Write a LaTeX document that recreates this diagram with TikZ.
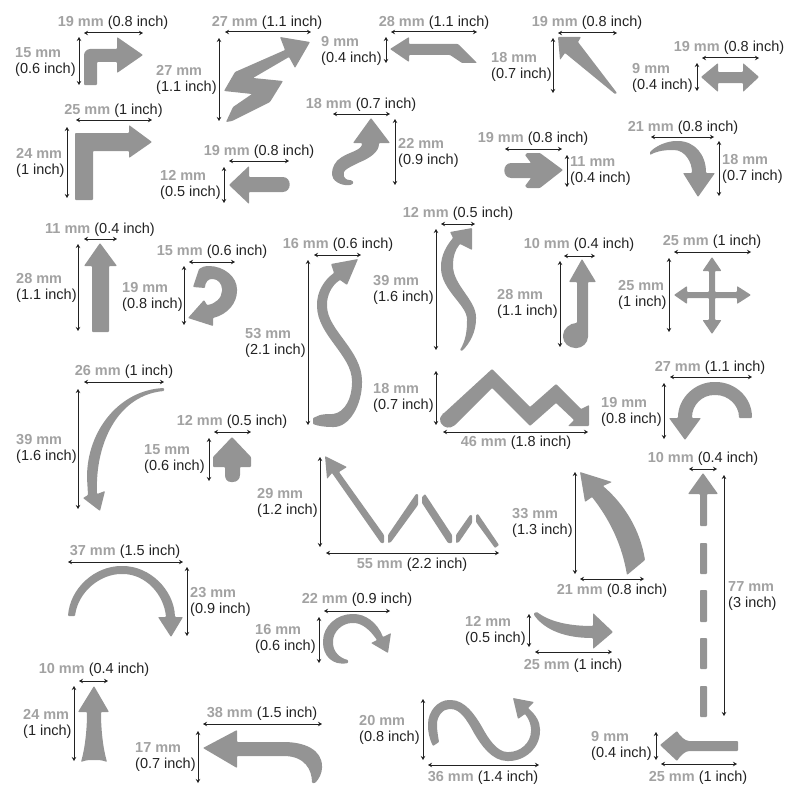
\documentclass[tikz,border=0pt]{standalone}
\usepackage{fontspec}
\setmainfont{Liberation Sans}
\usepackage{xcolor}
\usetikzlibrary{arrows.meta}
\definecolor{arrowgray}{HTML}{949494}
\definecolor{mmgray}{HTML}{A2A2A2}
\definecolor{inchblack}{HTML}{222222}
\newcommand{\mmtext}[1]{\textcolor{mmgray}{\textbf{#1}}}
\tikzset{
  arrowshape/.style={fill=arrowgray, draw=none, rounded corners=0.8pt},
  dimline/.style={{Stealth[length=4pt,width=4.5pt]}-{Stealth[length=4pt,width=4.5pt]}, line width=1pt, draw=inchblack},
  widthlabel/.style={inner sep=0pt, yshift=-1.8pt, text=inchblack, font=\fontsize{14.5}{16}\selectfont},
  heightlabel/.style={widthlabel, anchor=west, align=left}
}
\begin{document}
\begin{tikzpicture}[x=1pt, y=-1pt]
  \useasboundingbox (0,0) rectangle (800,800);

  % Bent right
  \fill[arrowshape] (84,85) -- (84,56) .. controls (84,52) and (87,49) .. (91,49) -- (117,49) -- (117,37) -- (143,55) -- (117,73) -- (117,62) -- (97,62) -- (97,85) -- cycle;
  \draw[dimline] (84,33) -- (143,33);
  \draw[dimline] (79,37) -- (79,85);
  \node[widthlabel] (benttop) at (113,21) {\mmtext{19 mm} (0.8 inch)};
  \node[heightlabel] (bentside) at (15,60) {\mmtext{15 mm}\\(0.6 inch)};

  % Lightning
  \fill[arrowshape] (310,42) -- (295,68) -- (289,57) -- (253,78) -- (283,81) -- (270,102) -- (232,121) -- (226,122) -- (233,107) -- (252,94) -- (224,91) -- (235,72) -- (285,50) -- (280,37) -- cycle;
  \draw[dimline] (225,32) -- (311,32);
  \draw[dimline] (219,38) -- (219,121);
  \node[widthlabel] (lightningtop) at (267,21) {\mmtext{27 mm} (1.1 inch)};
  \node[heightlabel] (lightningside) at (156,78) {\mmtext{27 mm}\\(1.1 inch)};

  % Left with bend
  \fill[arrowshape] (390,49) -- (409,37) -- (409,44) -- (458,44) -- (477,63) -- (462,63) -- (450,55) -- (409,55) -- (409,62) -- cycle;
  \draw[dimline] (391,32) -- (477,32);
  \draw[dimline] (386,37) -- (386,63);
  \node[widthlabel] (bendtop) at (434,21) {\mmtext{28 mm} (1.1 inch)};
  \node[heightlabel] (bendside) at (321,49) {\mmtext{9 mm}\\(0.4 inch)};

  % Spike
  \fill[arrowshape] (558,37) -- (581,37) -- (578,42) -- (617,93) -- (615,94) -- (565,53) -- (560,60) -- cycle;
  \draw[dimline] (558,33) -- (617,33);
  \draw[dimline] (553,38) -- (553,93);
  \node[widthlabel] (spiketop) at (587,21) {\mmtext{19 mm} (0.8 inch)};
  \node[heightlabel] (spikeside) at (491,65) {\mmtext{18 mm}\\(0.7 inch)};

  % Double
  \fill[arrowshape] (701,77) -- (718,63) -- (718,72) -- (743,72) -- (743,63) -- (759,77) -- (743,92) -- (743,83) -- (718,83) -- (718,92) -- cycle;
  \draw[dimline] (702,58) -- (759,58);
  \draw[dimline] (697,63) -- (697,91);
  \node[widthlabel] (doubletop) at (729,46) {\mmtext{19 mm} (0.8 inch)};
  \node[heightlabel] (doubleside) at (632,76) {\mmtext{9 mm}\\(0.4 inch)};

  % Big L
  \fill[arrowshape] (75,133) -- (129,133) -- (129,125) -- (152,142) -- (129,158) -- (129,151) -- (93,151) -- (93,200) -- (75,200) -- cycle;
  \draw[dimline] (76,120) -- (152,120);
  \draw[dimline] (67,127) -- (67,198);
  \node[widthlabel] (bigltop) at (113.5,109) {\mmtext{25 mm} (1 inch)};
  \node[heightlabel] (biglside) at (16,161) {\mmtext{24 mm}\\(1 inch)};

  % Left rounded
  \fill[arrowshape] (229,185) -- (249,166) -- (249,177) -- (282,177) .. controls (292,177) and (292,192) .. (282,192) -- (249,192) -- (249,204) -- cycle;
  \draw[dimline] (229,161) -- (289,161);
  \draw[dimline] (224,167) -- (224,203);
  \node[widthlabel] (lefttop) at (259,150) {\mmtext{19 mm} (0.8 inch)};
  \node[heightlabel] (leftside) at (160,183) {\mmtext{12 mm}\\(0.5 inch)};

  % Hook up
  \fill[arrowshape] (371,118) -- (390,143) -- (379,143) .. controls (379,152) and (370,158) .. (358,163) .. controls (350,167) and (344,170) .. (344,173) .. controls (343,177) and (346,180) .. (350,180) .. controls (354,181) and (354,184) .. (350,185) .. controls (340,186) and (332,180) .. (332,174) .. controls (332,168) and (335,161) .. (342,157) .. controls (350,152) and (362,150) .. (362,143) -- (353,143) -- cycle;
  \draw[dimline] (333,114) -- (390,114);
  \draw[dimline] (395,119) -- (395,185);
  \node[widthlabel] (hooktop) at (361,103) {\mmtext{18 mm} (0.7 inch)};
  \node[heightlabel] (hookside) at (398,151) {\mmtext{22 mm}\\(0.9 inch)};

  % Right rounded
  \fill[arrowshape] (563,170) -- (540,188) -- (527,188) -- (525,186) -- (531,178) -- (512,178) .. controls (502,178) and (502,163) .. (512,163) -- (531,163) -- (525,155) -- (527,153) -- (540,153) -- cycle;
  \draw[dimline] (505,149) -- (562,149);
  \draw[dimline] (567,155) -- (567,187);
  \node[widthlabel] (righttop) at (533,137) {\mmtext{19 mm} (0.8 inch)};
  \node[heightlabel] (rightside) at (570,169) {\mmtext{11 mm}\\(0.4 inch)};

  % Curve down
  \fill[arrowshape] (650,152) .. controls (657,145) and (668,141) .. (677,141) .. controls (695,141) and (706,155) .. (706,173) -- (715,173) -- (698,197) -- (683,173) -- (692,173) .. controls (692,162) and (685,150) .. (673,150) .. controls (662,150) and (655,152) .. (650,155) -- cycle;
  \draw[dimline] (651,137) -- (714,137);
  \draw[dimline] (719,141) -- (719,196);
  \node[widthlabel] (curvetop) at (683,126) {\mmtext{21 mm} (0.8 inch)};
  \node[heightlabel] (curveside) at (722,167) {\mmtext{18 mm}\\(0.7 inch)};

  % Straight up
  \fill[arrowshape] (100,243) -- (117,266) -- (109,266) -- (109,332) -- (92,332) -- (92,266) -- (84,266) -- cycle;
  \draw[dimline] (84,239) -- (117,239);
  \draw[dimline] (78,244) -- (78,331);
  \node[widthlabel] (straighttop) at (100,228) {\mmtext{11 mm} (0.4 inch)};
  \node[heightlabel] (straightside) at (16,286) {\mmtext{28 mm}\\(1.1 inch)};

  % Small circular
  \fill[arrowshape] (193,287) -- (199,269) .. controls (202,267) and (205,266) .. (208,266) .. controls (224,266) and (237,277) .. (237,290) .. controls (237,303) and (228,314) .. (213,318) -- (213,326) -- (188,318) -- (204,300) -- (207,305) .. controls (215,304) and (222,298) .. (222,290) .. controls (222,284) and (218,279) .. (212,279) .. controls (208,279) and (205,283) .. (205,288) -- cycle;
  \draw[dimline] (189,262) -- (235,262);
  \draw[dimline] (184,266) -- (184,325);
  \node[widthlabel] (circtop) at (212,250) {\mmtext{15 mm} (0.6 inch)};
  \node[heightlabel] (circside) at (122,295) {\mmtext{19 mm}\\(0.8 inch)};

  % Big S
  \fill[arrowshape] (331,264) -- (358,259) -- (347,285) -- (340,280) .. controls (331,286) and (327,296) .. (327,305) .. controls (327,330) and (362,350) .. (362,382) .. controls (362,404) and (350,427) .. (333,427) .. controls (325,427) and (318,426) .. (313,424) -- (313,418) -- (320,415) .. controls (325,414) and (329,414) .. (333,414) .. controls (345,412) and (352,398) .. (352,382) .. controls (352,355) and (317,335) .. (317,305) .. controls (317,292) and (324,280) .. (334,273) -- cycle;
  \draw[dimline] (314,255) -- (361,255);
  \draw[dimline] (308,260) -- (308,425);
  \node[widthlabel] (bigstop) at (338,243) {\mmtext{16 mm} (0.6 inch)};
  \node[heightlabel] (bigsside) at (245,341) {\mmtext{53 mm}\\(2.1 inch)};

  % Thin S
  \fill[arrowshape] (450,232) -- (472,228) -- (472,250) -- (460,244) .. controls (455,250) and (453,257) .. (453,265) .. controls (453,285) and (476,300) .. (476,318) .. controls (476,332) and (470,343) .. (462,351) -- (460,350) .. controls (466,340) and (467,330) .. (467,320) .. controls (467,305) and (441,290) .. (441,267) .. controls (441,255) and (447,245) .. (453,238) -- cycle;
  \draw[dimline] (441,224) -- (475,224);
  \draw[dimline] (436,229) -- (436,350);
  \node[widthlabel] (thinstop) at (458,212) {\mmtext{12 mm} (0.5 inch)};
  \node[heightlabel] (thinsside) at (373,288) {\mmtext{39 mm}\\(1.6 inch)};

  % Note
  \fill[arrowshape] (582,259) -- (596,282) -- (588,282) -- (588,336) .. controls (588,343) and (582,348) .. (576,348) .. controls (569,348) and (563,343) .. (563,336) .. controls (563,329) and (570,323) .. (577,323) -- (577,282) -- (569,282) -- cycle;
  \draw[dimline] (564,256) -- (595,256);
  \draw[dimline] (560,261) -- (560,347);
  \node[widthlabel] (notetop) at (579,243) {\mmtext{10 mm} (0.4 inch)};
  \node[heightlabel] (noteside) at (497,302) {\mmtext{28 mm}\\(1.1 inch)};

  % Cross
  \fill[arrowshape] (712,257) -- (721.5,271) -- (715,271) -- (715,292) -- (737,292) -- (737,286) -- (751,295) -- (737,304) -- (737,298) -- (715,298) -- (715,320) -- (721.5,320) -- (712,334) -- (702.5,320) -- (709,320) -- (709,298) -- (687,298) -- (687,304) -- (674,295) -- (687,286) -- (687,292) -- (709,292) -- (709,271) -- (702.5,271) -- cycle;
  \draw[dimline] (674,252) -- (751,252);
  \draw[dimline] (669,258) -- (669,332);
  \node[widthlabel] (crosstop) at (712,240) {\mmtext{25 mm} (1 inch)};
  \node[heightlabel] (crossside) at (618,293) {\mmtext{25 mm}\\(1 inch)};

  % Zigzag
  \fill[arrowshape] (443,414) -- (492,369) -- (530,407) -- (556,384) -- (581,409) -- (589,405) -- (589,426) -- (568,426) -- (574,420) -- (556,403) -- (530,426) -- (492,388) -- (455,425) .. controls (450,429) and (444,428) .. (441,423) .. controls (439,420) and (440,417) .. (443,414) -- cycle;
  \draw[dimline] (443,432) -- (588,432);
  \draw[dimline] (436,371) -- (436,425);
  \node[widthlabel] (zigbottom) at (516,441) {\mmtext{46 mm} (1.8 inch)};
  \node[heightlabel] (zigside) at (373,396) {\mmtext{18 mm}\\(0.7 inch)};

  % U-turn
  \fill[arrowshape] (752,418) .. controls (752,397) and (735,382) .. (715,382) .. controls (695,382) and (678,398) .. (678,418) -- (669,418) -- (685,440) -- (701,418) -- (692,418) .. controls (692,405) and (702,395) .. (715,395) .. controls (728,395) and (739,405) .. (739,418) -- cycle;
  \draw[dimline] (670,377) -- (752,377);
  \draw[dimline] (664,383) -- (664,439);
  \node[widthlabel] (uturntop) at (710,366) {\mmtext{27 mm} (1.1 inch)};
  \node[heightlabel] (uturnside) at (601,410) {\mmtext{19 mm}\\(0.8 inch)};

  % Long arc
  \fill[arrowshape] (164,388) .. controls (120,390) and (87,430) .. (87,478) -- (88,495) -- (83,498) -- (100,511) -- (105,491) -- (97,494) .. controls (95,440) and (120,395) .. (164,391) -- cycle;
  \draw[dimline] (84,382) -- (164,382);
  \draw[dimline] (78,389) -- (78,509);
  \node[widthlabel] (arctop) at (124,370) {\mmtext{26 mm} (1 inch)};
  \node[heightlabel] (arcside) at (16,447) {\mmtext{39 mm}\\(1.6 inch)};

  % Stub up
  \fill[arrowshape] (232,437) -- (251,457) -- (251,467) -- (240,467) -- (240,474) .. controls (240,479) and (237,482) .. (232,482) .. controls (227,482) and (225,479) .. (225,474) -- (225,467) -- (213,467) -- (213,457) -- cycle;
  \draw[dimline] (214,432) -- (251,432);
  \draw[dimline] (209,438) -- (209,481);
  \node[widthlabel] (stubtop) at (232,420) {\mmtext{12 mm} (0.5 inch)};
  \node[heightlabel] (stubside) at (144,457) {\mmtext{15 mm}\\(0.6 inch)};

  % Broken zigzag
  \fill[arrowshape] (325,456) -- (347,467) -- (339,472) -- (384,535) -- (384,543) -- (381,543) -- (332,473) -- (327,479) -- cycle;
  \fill[arrowshape] (388,535) -- (416,494) -- (418,494) -- (418,505) -- (391,542) -- (388,543) -- cycle;
  \fill[arrowshape] (422,497) -- (425,494) -- (452,535) -- (452,543) -- (448,543) -- (422,503) -- cycle;
  \fill[arrowshape] (456,535) -- (470,515) -- (472,515) -- (472,523) -- (459,542) -- (456,543) -- cycle;
  \fill[arrowshape] (476,515) -- (478,514) -- (499,545) -- (495,548) -- (476,522) -- cycle;
  \draw[dimline] (326,553) -- (499,553);
  \draw[dimline] (320,457) -- (320,547);
  \node[widthlabel] (brokenbottom) at (412,563) {\mmtext{55 mm} (2.2 inch)};
  \node[heightlabel] (brokenside) at (257,501) {\mmtext{29 mm}\\(1.2 inch)};

  % Thick arc
  \fill[arrowshape] (580,472) -- (612,482) -- (603,486) .. controls (625,505) and (640,530) .. (645,560) -- (627,575) .. controls (622,545) and (610,520) .. (592,497) -- (585,502) -- cycle;
  \draw[dimline] (580,579) -- (644,579);
  \draw[dimline] (575,472) -- (575,574);
  \node[widthlabel] (thickbottom) at (612,589) {\mmtext{21 mm} (0.8 inch)};
  \node[heightlabel] (thickside) at (512,521) {\mmtext{33 mm}\\(1.3 inch)};

  % Dashed up
  \fill[arrowshape] (703,473) -- (718,494) -- (707,494) -- (707,526) -- (700,526) -- (700,494) -- (688,494) -- cycle;
  \foreach \ytop/\ybot in {543/574, 590/622, 638/669, 686/717}
    \fill[arrowshape] (700,\ytop) rectangle (707,\ybot);
  \draw[dimline] (689,469) -- (717,469);
  \draw[dimline] (724,475) -- (724,716);
  \node[widthlabel] (dashtop) at (703,457) {\mmtext{10 mm} (0.4 inch)};
  \node[heightlabel] (dashside) at (728,594) {\mmtext{77 mm}\\(3 inch)};

  % Pinched left
  \fill[arrowshape] (660,745) -- (677,731) .. controls (680,736) and (685,741) .. (690,741) -- (738,741) -- (738,751) -- (690,751) .. controls (685,751) and (680,756) .. (677,761) -- cycle;
  \draw[dimline] (661,764) -- (737,764);
  \draw[dimline] (656,732) -- (656,760);
  \node[widthlabel] (pinchbottom) at (698,776) {\mmtext{25 mm} (1 inch)};
  \node[heightlabel] (pinchside) at (591,744) {\mmtext{9 mm}\\(0.4 inch)};

  % Swoop right
  \fill[arrowshape] (534,613) -- (537,612) .. controls (550,622) and (570,626) .. (593,626) -- (593,613) -- (613,632) -- (593,649) -- (593,638) .. controls (565,638) and (545,630) .. (534,615) -- cycle;
  \draw[dimline] (535,652) -- (612,652);
  \draw[dimline] (529,614) -- (529,647);
  \node[widthlabel] (swoopbottom) at (573,664) {\mmtext{25 mm} (1 inch)};
  \node[heightlabel] (swoopside) at (465,629) {\mmtext{12 mm}\\(0.5 inch)};

  % Semicircle
  \fill[arrowshape] (68,616) .. controls (70,588) and (95,566) .. (122,566) .. controls (150,566) and (174,590) .. (175,617) -- (183,617) -- (171,637) -- (158,617) -- (166,617) .. controls (164,595) and (146,574) .. (122,574) .. controls (100,574) and (78,592) .. (75,616) -- cycle;
  \draw[dimline] (68,562) -- (183,562);
  \draw[dimline] (187,567) -- (187,636);
  \node[widthlabel] (semitop) at (125,550) {\mmtext{37 mm} (1.5 inch)};
  \node[heightlabel] (semiside) at (190,600) {\mmtext{23 mm}\\(0.9 inch)};

  % Loop right
  \fill[arrowshape] (348,663) .. controls (332,666) and (323,655) .. (323,642) .. controls (323,626) and (337,614) .. (353,614) .. controls (365,614) and (377,622) .. (383,637) -- (391,633) -- (388,653) -- (371,643) -- (377,640) .. controls (370,630) and (362,623) .. (353,623) .. controls (342,623) and (333,632) .. (333,642) .. controls (333,652) and (340,658) .. (348,660) -- cycle;
  \draw[dimline] (324,611) -- (390,611);
  \draw[dimline] (319,617) -- (319,663);
  \node[widthlabel] (looptop) at (357,598) {\mmtext{22 mm} (0.9 inch)};
  \node[heightlabel] (loopside) at (255,637) {\mmtext{16 mm}\\(0.6 inch)};

  % Flared up
  \fill[arrowshape] (94,686) -- (109,712) -- (101,712) .. controls (101,730) and (103,748) .. (107,762) .. controls (102,760) and (98,760) .. (94,760) .. controls (90,760) and (86,760) .. (81,762) .. controls (85,748) and (87,730) .. (87,712) -- (78,712) -- cycle;
  \draw[dimline] (79,681) -- (108,681);
  \draw[dimline] (74,686) -- (74,761);
  \node[widthlabel] (flaretop) at (94,668) {\mmtext{10 mm} (0.4 inch)};
  \node[heightlabel] (flareside) at (23,722) {\mmtext{24 mm}\\(1 inch)};

  % Long left
  \fill[arrowshape] (203,748) -- (237,730) -- (237,742) -- (283,742) .. controls (305,742) and (322,750) .. (322,767) .. controls (322,773) and (319,779) .. (315,783) -- (312,783) .. controls (312,770) and (305,756) .. (283,756) -- (237,756) -- (237,768) -- cycle;
  \draw[dimline] (203,724) -- (322,724);
  \draw[dimline] (198,731) -- (198,783);
  \node[widthlabel] (longtop) at (262,712) {\mmtext{38 mm} (1.5 inch)};
  \node[heightlabel] (longside) at (135,755) {\mmtext{17 mm}\\(0.7 inch)};

  % Wave
  \fill[arrowshape] (433,746) .. controls (429,738) and (428,731) .. (428,725) .. controls (428,711) and (438,700) .. (450,700) .. controls (465,700) and (475,715) .. (482,727) .. controls (488,738) and (497,752) .. (508,752) .. controls (520,752) and (531,743) .. (531,730) .. controls (531,725) and (529,719) .. (525,714) -- (518,719) -- (513,698) -- (534,702) -- (528,708) .. controls (536,715) and (540,722) .. (540,730) .. controls (540,748) and (525,761) .. (508,761) .. controls (492,761) and (481,745) .. (474,733) .. controls (467,720) and (460,709) .. (450,709) .. controls (443,709) and (437,716) .. (437,725) .. controls (437,730) and (438,736) .. (439,742) -- cycle;
  \draw[dimline] (428,765) -- (539,765);
  \draw[dimline] (423,699) -- (423,760);
  \node[widthlabel] (wavebottom) at (483,776) {\mmtext{36 mm} (1.4 inch)};
  \node[heightlabel] (waveside) at (359,728) {\mmtext{20 mm}\\(0.8 inch)};
\end{tikzpicture}
\end{document}
